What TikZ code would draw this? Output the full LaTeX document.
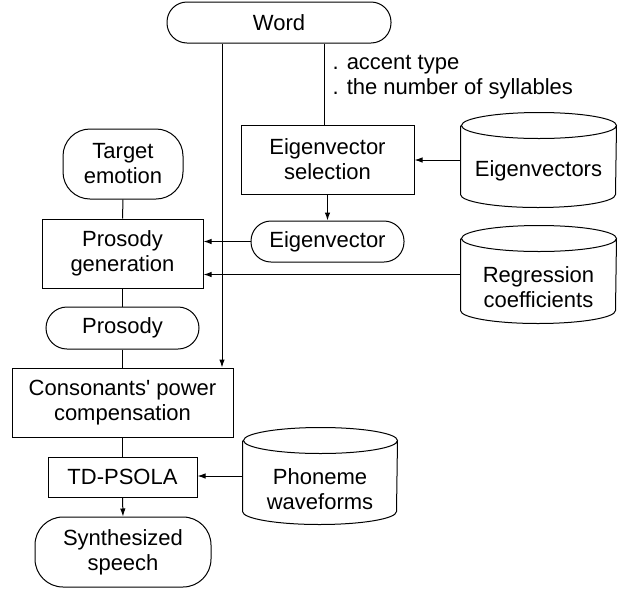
\documentclass[tikz,border=0pt]{standalone}
\usepackage{fontspec}
\setmainfont{Liberation Sans}
\usetikzlibrary{arrows.meta,calc}
\tikzset{
  base/.style={font=\fontsize{22}{25}\selectfont, align=center, inner sep=0pt, line width=1pt},
  boxnode/.style={base, draw},
  term/.style={base, draw, rounded corners=#1},
  dbnode/.style={base},
  arr/.style={-{Latex[length=8pt,width=5.5pt]}, line width=1pt},
  ln/.style={line width=1pt},
}
\newcommand{\mycyl}[3]{% name, half width, ry
  \draw[ln] ([yshift=-#3]#1.north west) -- ([yshift=#3]#1.south west)
    arc[start angle=180,end angle=360,x radius=#2,y radius=#3]
    -- ([yshift=-#3]#1.north east)
    arc[start angle=0,end angle=360,x radius=#2,y radius=#3];
}
\begin{document}
\begin{tikzpicture}[x=1pt,y=-1pt]
\useasboundingbox (0,0) rectangle (633,590);
% terminals
\node[term=20pt, minimum width=224pt, minimum height=41pt] (word) at (279,22.5) {Word};
\node[term=27pt, minimum width=120pt, minimum height=70pt] (target) at (123,164) {Target\\emotion};
\node[term=21pt, minimum width=153pt, minimum height=42pt] (prosody) at (122.5,328) {Prosody};
\node[term=28pt, minimum width=176pt, minimum height=70pt] (synth) at (123,552) {Synthesized\\speech};
\node[term=20pt, minimum width=153pt, minimum height=41pt] (evec) at (327.5,241.5) {Eigenvector};
% boxes
\node[boxnode, minimum width=161pt, minimum height=69pt] (pgen) at (122.5,253.5) {Prosody\\generation};
\node[boxnode, minimum width=221pt, minimum height=69pt] (cons) at (122.5,402.5) {Consonants\textquotesingle{} power\\compensation};
\node[boxnode, minimum width=149pt, minimum height=40pt] (td) at (122.5,477) {TD-PSOLA};
\node[boxnode, minimum width=173pt, minimum height=69pt] (esel) at (327.5,159.5) {Eigenvector\\selection};
% databases
\node[dbnode, minimum width=155pt, minimum height=94pt] (evecs) at (538.5,160) {};
\node[base] at ([yshift=-11pt]evecs.center) {Eigenvectors};
\mycyl{evecs}{77.5pt}{13pt}
\node[dbnode, minimum width=155pt, minimum height=97pt] (regr) at (538.5,274.5) {};
\node[base] at ([yshift=-13pt]regr.center) {Regression\\coefficients};
\mycyl{regr}{77.5pt}{13pt}
\node[dbnode, minimum width=154pt, minimum height=96pt] (phon) at (320,476) {};
\node[base] at ([yshift=-13pt]phon.center) {Phoneme\\waveforms};
\mycyl{phon}{77pt}{13pt}
% label
\node[base, align=left, anchor=north west] (lbl) at (332,55) {. accent type\\. the number of syllables};
% connectors
\coordinate (vx) at (222,0);
\coordinate (vy) at (324,0);
\draw[arr] (word.south -| vx) -- (cons.north -| vx);
\draw[ln] (word.south -| vy) -- (esel.north -| vy);
\draw[arr] (evecs.west) -- (esel.east |- evecs.west);
\draw[arr] (esel.south) -- (evec.north);
\draw[arr] (evec.west) -- (pgen.east |- evec.west);
\draw[arr] (regr.west) -- (pgen.east |- regr.west);
\draw[ln] (target.south) -- (pgen.north);
\draw[ln] (pgen.south) -- (prosody.north);
\draw[ln] (prosody.south) -- (cons.north -| prosody.south);
\draw[ln] (cons.south) -- (td.north);
\draw[arr] (td.south) -- (synth.north);
\draw[arr] (phon.west) -- (td.east |- phon.west);
\end{tikzpicture}
\end{document}
